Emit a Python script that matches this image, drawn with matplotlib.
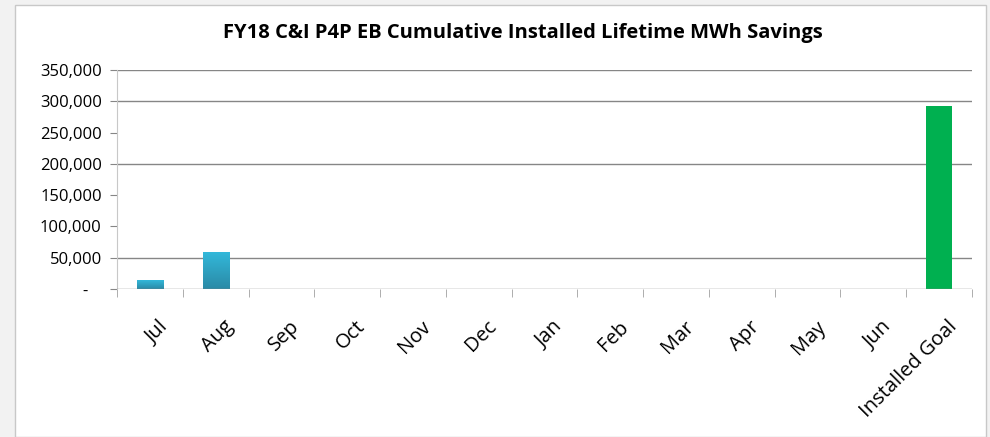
import numpy as np
import matplotlib.pyplot as plt
import matplotlib.transforms as mtransforms
from matplotlib.ticker import FuncFormatter
from matplotlib.colors import LinearSegmentedColormap

months = ['Jul', 'Aug', 'Sep', 'Oct', 'Nov', 'Dec', 'Jan', 'Feb', 'Mar', 'Apr',
          'May', 'Jun', 'Installed Goal']
savings = [13700, 58500, 0, 0, 0, 0, 0, 0, 0, 0, 0, 0, 293000]
yticks = [0, 50000, 100000, 150000, 200000, 250000, 300000, 350000]
shown_grid = [50000, 200000, 300000, 350000]

plt.rcParams['font.family'] = ['Open Sans', 'DejaVu Sans']

fig = plt.figure(figsize=(9.9, 4.37), dpi=100)
fig.patch.set_facecolor('#f2f2f2')
# white chart panel, kept behind everything
panel = plt.Rectangle((15 / 990, 0), 971 / 990, 432 / 437, transform=fig.transFigure,
                      facecolor='white', edgecolor='#c8c8c8', lw=1.0, zorder=-10)
fig.patches.append(panel)

ax = fig.add_axes([117 / 990, 1 - 289 / 437, 855 / 990, 219 / 437])
ax.set_facecolor('none')

x = np.arange(len(months))
width = 0.4
blue = LinearSegmentedColormap.from_list('bl', ['#2a8aa6', '#33b8da'])
for i, v in enumerate(savings):
    if v <= 0:
        continue
    if i == len(months) - 1:
        ax.bar(x[i], v, width=width, color='#00b050', zorder=3)
    else:
        b = ax.bar(x[i], v, width=width, color='none', zorder=3)[0]
        grad = np.linspace(0, 1, 100).reshape(-1, 1)
        im = ax.imshow(grad, cmap=blue, aspect='auto', origin='lower',
                       extent=[x[i] - width / 2, x[i] + width / 2, 0, v], zorder=3)
        im.set_clip_path(b)

ax.set_xlim(-0.5, len(months) - 0.5)
ax.set_ylim(0, 350000)

for g in shown_grid:
    ax.axhline(g, color='#868686', lw=1.0, zorder=1)
ax.axhline(0, color='#868686', lw=1.0, zorder=4)

ax.set_yticks(yticks)
ax.yaxis.set_major_formatter(FuncFormatter(lambda v, p: '-   ' if v == 0 else f'{int(v):,}'))
ax.tick_params(axis='y', length=5, color='#868686', labelsize=12, pad=6)

ax.set_xticks(x)
ax.set_xticklabels(months, rotation=45, ha='right', rotation_mode='anchor', fontsize=14.5)
ax.set_xticks(np.arange(-0.5, len(months)), minor=True)
ax.tick_params(axis='x', which='major', length=0, pad=20)
ax.tick_params(axis='x', which='minor', length=6, color='#a0a0a0')
shift = mtransforms.ScaledTranslation(8 / 100, 0, fig.dpi_scale_trans)
for lab in ax.get_xticklabels():
    lab.set_transform(lab.get_transform() + shift)

for s in ['top', 'right', 'bottom']:
    ax.spines[s].set_visible(False)
ax.spines['left'].set_color('#c8c8c8')
ax.spines['left'].set_bounds(0, 350000)

fig.text(523 / 990, 1 - 33 / 437, 'FY18 C&I P4P EB Cumulative Installed Lifetime MWh Savings',
         ha='center', va='center', fontsize=14.5, fontweight='bold')

fig.savefig('out.png', dpi=100, facecolor=fig.get_facecolor())
